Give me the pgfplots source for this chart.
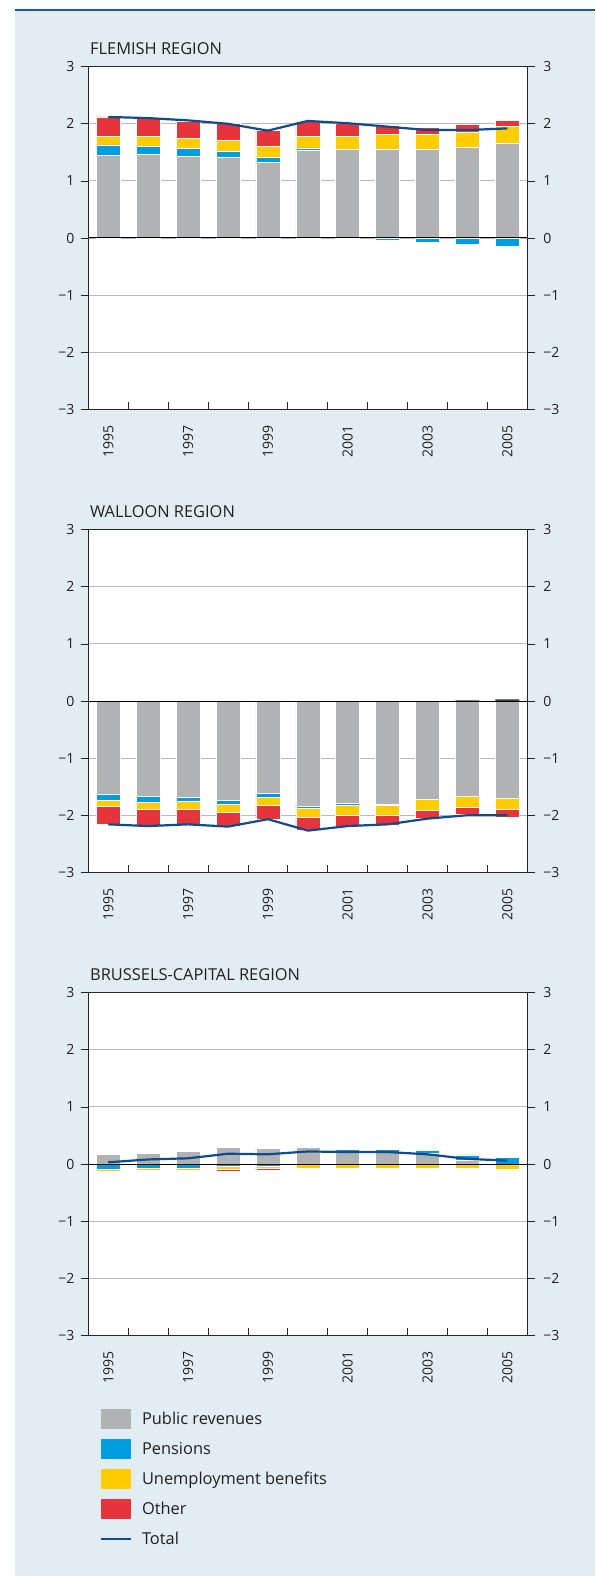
\documentclass[border=0pt]{standalone}
\usepackage{fontspec}
\setmainfont{Open Sans}
\usepackage{pgfplots}
\pgfplotsset{compat=1.18}
\usepackage{pgfplotstable}

\definecolor{bg}{RGB}{225,236,243}
\definecolor{topblue}{RGB}{30,90,155}
\definecolor{cgrey}{RGB}{177,178,180}
\definecolor{cblue}{RGB}{0,158,224}
\definecolor{cyellow}{RGB}{255,204,0}
\definecolor{cred}{RGB}{230,52,60}
\definecolor{ctot}{RGB}{15,76,140}
\definecolor{cgrid}{RGB}{185,185,185}
\definecolor{cdark}{RGB}{50,62,62}
\definecolor{ctext}{RGB}{35,31,32}

% Flemish region: positive stack (pr, pen, un, oth), negative pensions (penN)
\pgfplotstableread{
year pr   pen  un   oth  penN  tot
1995 1.45 0.18 0.15 0.34 0     2.12
1996 1.47 0.14 0.17 0.31 0     2.10
1997 1.43 0.14 0.18 0.30 0     2.06
1998 1.42 0.10 0.19 0.30 0     2.00
1999 1.33 0.08 0.19 0.28 0     1.88
2000 1.54 0.04 0.20 0.26 0     2.05
2001 1.55 0.00 0.23 0.23 0     2.01
2002 1.56 0.00 0.26 0.16 -0.04 1.95
2003 1.56 0.00 0.26 0.12 -0.08 1.89
2004 1.59 0.00 0.27 0.14 -0.11 1.89
2005 1.66 0.00 0.30 0.10 -0.15 1.92
}\flemish

% Walloon region: negative stack, small positive part
\pgfplotstableread{
year prN   penN  unN   othN  pos  tot
1995 -1.64 -0.10 -0.10 -0.32 0    -2.16
1996 -1.67 -0.10 -0.12 -0.30 0    -2.19
1997 -1.68 -0.07 -0.14 -0.27 0    -2.16
1998 -1.73 -0.08 -0.14 -0.25 0    -2.20
1999 -1.61 -0.07 -0.14 -0.25 0    -2.07
2000 -1.84 -0.04 -0.16 -0.22 0    -2.27
2001 -1.79 -0.04 -0.17 -0.19 0    -2.19
2002 -1.81 -0.02 -0.17 -0.18 0    -2.16
2003 -1.72 0     -0.19 -0.15 0    -2.06
2004 -1.67 0     -0.19 -0.13 0.01 -2.00
2005 -1.70 0     -0.19 -0.14 0.03 -2.00
}\walloon

% Brussels-Capital region
\pgfplotstableread{
year prP  penP othP penN   unN    othN   tot
1995 0.17 0    0    -0.09  -0.04  -0.01  0.03
1996 0.18 0    0    -0.07  -0.035 -0.02  0.08
1997 0.22 0    0    -0.07  -0.035 -0.02  0.10
1998 0.29 0    0    -0.035 -0.05  -0.04  0.18
1999 0.27 0    0    -0.035 -0.035 -0.035 0.17
2000 0.29 0    0    0      -0.07  -0.02  0.22
2001 0.23 0.03 0    0      -0.07  0      0.21
2002 0.21 0.05 0    0      -0.07  0      0.21
2003 0.19 0.05 0    0      -0.07  0      0.17
2004 0.07 0.09 0.01 0      -0.07  0      0.09
2005 0    0.12 0.02 0      -0.10  0      0.06
}\brussels

\pgfplotsset{
  panel/.style={
    scale only axis, width=439pt, height=342.6pt,
    xmin=1994.5, xmax=2005.5, ymin=-3, ymax=3,
    ytick={-3,-2,-1,0,1,2,3},
    yticklabels={−3,−2,−1,0,1,2,3},
    tick style={black!85, line width=0.8pt},
    major tick length=7.5pt,
    tick label style={font=\fontsize{14}{16}\selectfont, text=ctext},
    axis line style={black!85, line width=0.9pt},
  },
  bars/.style={
    ybar stacked, bar width=0.6,
    every axis plot/.append style={draw=white, line width=0.5pt},
  },
  frameax/.style={
    panel, bars,
    axis background/.style={fill=white},
    ymajorgrids, grid style={cgrid, line width=0.9pt},
    ytick pos=left, ytick align=outside,
    yticklabel style={xshift=-3pt},
    xtick={1995.5,1996.5,...,2004.5}, xticklabels={},
    xtick pos=left, xtick align=inside,
    extra x ticks={1995,1997,1999,2001,2003,2005},
    extra x tick labels={1995,1997,1999,2001,2003,2005},
    extra x tick style={major tick length=0pt, grid=none,
      xticklabel style={rotate=90, anchor=east, xshift=-13pt}},
  },
  rightax/.style={
    panel, bars,
    axis x line=none, axis y line*=right,
    ytick align=outside,
    yticklabel style={xshift=5pt},
  },
  lineax/.style={panel, hide axis},
}

\begin{document}
\begin{tikzpicture}
\fill[white] (0pt,0pt) rectangle (595pt,-1576pt);
\fill[bg] (15pt,-10pt) rectangle (595pt,-1576pt);
\draw[topblue, line width=1.4pt] (15pt,-10pt) -- (595pt,-10pt);

\tikzset{ttl/.style={anchor=base west, inner sep=0pt, text=ctext, font=\fontsize{16.4}{19}\selectfont}}
\node[ttl] at (90pt,-54.3pt) {FLEMISH REGION};
\node[ttl] at (90pt,-517.3pt) {WALLOON REGION};
\node[ttl] at (90pt,-980.3pt) {BRUSSELS-CAPITAL REGION};

% ---------------- Flemish ----------------
\begin{axis}[frameax, at={(88.3pt,-409.3pt)}, anchor=south west]
  \addplot[fill=cblue] table[x=year,y=penN]{\flemish};
\end{axis}
\begin{axis}[rightax, at={(88.3pt,-409.3pt)}, anchor=south west]
  \addplot[fill=cgrey] table[x=year,y=pr]{\flemish};
  \addplot[fill=cblue] table[x=year,y=pen]{\flemish};
  \addplot[fill=cyellow] table[x=year,y=un]{\flemish};
  \addplot[fill=cred] table[x=year,y=oth]{\flemish};
\end{axis}
\begin{axis}[lineax, at={(88.3pt,-409.3pt)}, anchor=south west]
  \draw[black, line width=1pt] (axis cs:1994.5,0) -- (axis cs:2005.5,0);
  \addplot[ctot, line width=2.2pt, mark=none] table[x=year,y=tot]{\flemish};
\end{axis}

% ---------------- Walloon ----------------
\begin{axis}[frameax, at={(88.3pt,-872.3pt)}, anchor=south west]
  \addplot[fill=cgrey] table[x=year,y=prN]{\walloon};
  \addplot[fill=cblue] table[x=year,y=penN]{\walloon};
  \addplot[fill=cyellow] table[x=year,y=unN]{\walloon};
  \addplot[fill=cred] table[x=year,y=othN]{\walloon};
\end{axis}
\begin{axis}[rightax, at={(88.3pt,-872.3pt)}, anchor=south west]
  \addplot[fill=cdark, draw=none] table[x=year,y=pos]{\walloon};
\end{axis}
\begin{axis}[lineax, at={(88.3pt,-872.3pt)}, anchor=south west]
  \draw[black, line width=1pt] (axis cs:1994.5,0) -- (axis cs:2005.5,0);
  \addplot[ctot, line width=2.2pt, mark=none] table[x=year,y=tot]{\walloon};
\end{axis}

% ---------------- Brussels ----------------
\begin{axis}[frameax, at={(88.3pt,-1335.3pt)}, anchor=south west]
  \addplot[fill=cblue] table[x=year,y=penN]{\brussels};
  \addplot[fill=cyellow] table[x=year,y=unN]{\brussels};
  \addplot[fill=cred] table[x=year,y=othN]{\brussels};
\end{axis}
\begin{axis}[rightax, at={(88.3pt,-1335.3pt)}, anchor=south west]
  \addplot[fill=cgrey] table[x=year,y=prP]{\brussels};
  \addplot[fill=cblue] table[x=year,y=penP]{\brussels};
  \addplot[fill=cred] table[x=year,y=othP]{\brussels};
\end{axis}
\begin{axis}[lineax, at={(88.3pt,-1335.3pt)}, anchor=south west,
  legend style={at={(axis description cs:0.0267,-0.215)}, anchor=north west,
    draw=none, fill=none, inner sep=0pt, outer sep=0pt, row sep=10pt,
    nodes={inner sep=0pt}, font=\fontsize{16.4}{19}\selectfont, text=ctext,
    /tikz/every odd column/.append style={column sep=10pt}},
  legend cell align=left]
  \draw[black, line width=1pt] (axis cs:1994.5,0) -- (axis cs:2005.5,0);
  \addplot[ctot, line width=2.2pt, mark=none, forget plot] table[x=year,y=tot]{\brussels};
  \addlegendimage{legend image code/.code={\fill[cgrey, draw=none] (0pt,-10pt) rectangle (30pt,10pt);}}
  \addlegendentry{Public revenues}
  \addlegendimage{legend image code/.code={\fill[cblue, draw=none] (0pt,-10pt) rectangle (30pt,10pt);}}
  \addlegendentry{Pensions}
  \addlegendimage{legend image code/.code={\fill[cyellow, draw=none] (0pt,-10pt) rectangle (30pt,10pt);}}
  \addlegendentry{Unemployment benefits}
  \addlegendimage{legend image code/.code={\fill[cred, draw=none] (0pt,-10pt) rectangle (30pt,10pt);}}
  \addlegendentry{Other}
  \addlegendimage{legend image code/.code={\path[draw=none, fill=none] (0pt,-10pt) rectangle (30pt,10pt); \draw[ctot, line width=2pt] (0pt,0pt) -- (30pt,0pt);}}
  \addlegendentry{Total}
\end{axis}
\end{tikzpicture}
\end{document}
